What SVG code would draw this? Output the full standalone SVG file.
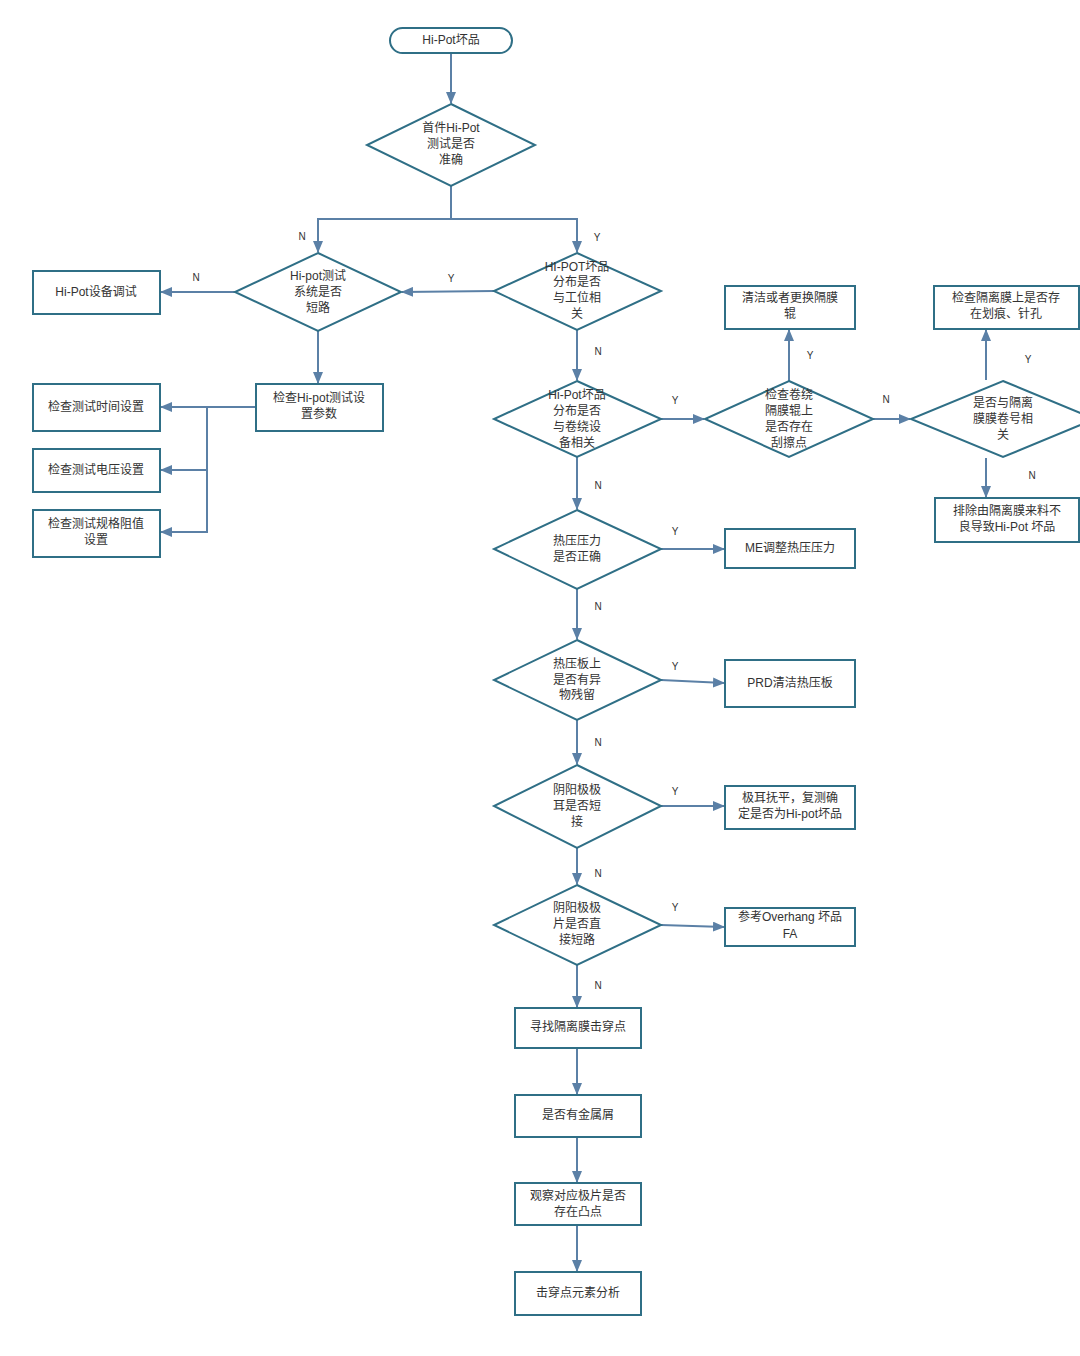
<svg xmlns="http://www.w3.org/2000/svg" width="1080" height="1356" viewBox="0 0 1080 1356">
<style>
.box{fill:#fff;stroke:#2f6f86;stroke-width:2}
.t{font-family:"Liberation Sans","Noto Sans CJK SC",sans-serif;font-size:12px;fill:#333;text-anchor:middle}
.l{font-family:"Liberation Sans",sans-serif;font-size:10px;fill:#333;text-anchor:middle}
.c{fill:none;stroke:#5b80a6;stroke-width:2}
</style>
<defs>
<marker id="a" markerUnits="userSpaceOnUse" markerWidth="12" markerHeight="10" refX="11" refY="5" orient="auto">
<path d="M0,0 L12,5 L0,10 Z" fill="#5b80a6"/>
</marker>
</defs>
<rect width="1080" height="1356" fill="#fff"/>
<g id="connectors">
<path class="c" d="M451,53 V103" marker-end="url(#a)"/>
<path class="c" d="M451,186 V219 H318 V252" marker-end="url(#a)"/>
<path class="c" d="M451,219 H577 V252" marker-end="url(#a)"/>
<path class="c" d="M494,291 L402,292" marker-end="url(#a)"/>
<path class="c" d="M235,292 H161" marker-end="url(#a)"/>
<path class="c" d="M318,331 V383" marker-end="url(#a)"/>
<path class="c" d="M256,407 H161" marker-end="url(#a)"/>
<path class="c" d="M207,407 V470 H161" marker-end="url(#a)"/>
<path class="c" d="M207,470 V532 H161" marker-end="url(#a)"/>
<path class="c" d="M577,330 V380" marker-end="url(#a)"/>
<path class="c" d="M661,419 H704" marker-end="url(#a)"/>
<path class="c" d="M789,381 V330" marker-end="url(#a)"/>
<path class="c" d="M873,419 H910" marker-end="url(#a)"/>
<path class="c" d="M986,380 V330" marker-end="url(#a)"/>
<path class="c" d="M986,458 V497" marker-end="url(#a)"/>
<path class="c" d="M577,457 V509" marker-end="url(#a)"/>
<path class="c" d="M661,549 H724" marker-end="url(#a)"/>
<path class="c" d="M577,589 V639" marker-end="url(#a)"/>
<path class="c" d="M661,680 L724,683" marker-end="url(#a)"/>
<path class="c" d="M577,720 V764" marker-end="url(#a)"/>
<path class="c" d="M661,806 H724" marker-end="url(#a)"/>
<path class="c" d="M577,848 V884" marker-end="url(#a)"/>
<path class="c" d="M661,925 L724,927" marker-end="url(#a)"/>
<path class="c" d="M577,965 V1007" marker-end="url(#a)"/>
<path class="c" d="M577,1048 V1094" marker-end="url(#a)"/>
<path class="c" d="M577,1137 V1182" marker-end="url(#a)"/>
<path class="c" d="M577,1225 V1271" marker-end="url(#a)"/>
<text class="l" x="302" y="240">N</text>
<text class="l" x="597" y="241">Y</text>
<text class="l" x="451" y="282">Y</text>
<text class="l" x="196" y="281">N</text>
<text class="l" x="598" y="355">N</text>
<text class="l" x="675" y="404">Y</text>
<text class="l" x="810" y="359">Y</text>
<text class="l" x="886" y="403">N</text>
<text class="l" x="1028" y="363">Y</text>
<text class="l" x="1032" y="479">N</text>
<text class="l" x="598" y="489">N</text>
<text class="l" x="675" y="535">Y</text>
<text class="l" x="598" y="610">N</text>
<text class="l" x="675" y="670">Y</text>
<text class="l" x="598" y="746">N</text>
<text class="l" x="675" y="795">Y</text>
<text class="l" x="598" y="877">N</text>
<text class="l" x="675" y="911">Y</text>
<text class="l" x="598" y="989">N</text>
</g>
<g id="start"><rect class="box" x="390" y="28" width="122" height="25" rx="12.5"/><text class="t" x="451" y="44">Hi-Pot坏品</text></g>
<g id="d1"><polygon class="box" points="451,104 535,145 451,186 367,145"/><text class="t" x="451" y="132">首件Hi-Pot</text><text class="t" x="451" y="148">测试是否</text><text class="t" x="451" y="164">准确</text></g>
<g id="d2"><polygon class="box" points="318,253 401,292 318,331 235,292"/><text class="t" x="318" y="280">Hi-pot测试</text><text class="t" x="318" y="296">系统是否</text><text class="t" x="318" y="312">短路</text></g>
<g id="d3"><polygon class="box" points="577,253 661,291 577,330 494,291"/><text class="t" x="577" y="271">HI-POT坏品</text><text class="t" x="577" y="286">分布是否</text><text class="t" x="577" y="302">与工位相</text><text class="t" x="577" y="318">关</text></g>
<g id="b1"><rect class="box" x="33" y="271" width="127" height="43"/><text class="t" x="96" y="296">Hi-Pot设备调试</text></g>
<g id="b2"><rect class="box" x="256" y="384" width="127" height="47"/><text class="t" x="319" y="402">检查Hi-pot测试设</text><text class="t" x="319" y="418">置参数</text></g>
<g id="b3"><rect class="box" x="33" y="384" width="127" height="47"/><text class="t" x="96" y="411">检查测试时间设置</text></g>
<g id="b4"><rect class="box" x="33" y="449" width="127" height="43"/><text class="t" x="96" y="474">检查测试电压设置</text></g>
<g id="b5"><rect class="box" x="33" y="510" width="127" height="47"/><text class="t" x="96" y="528">检查测试规格阻值</text><text class="t" x="96" y="544">设置</text></g>
<g id="d4"><polygon class="box" points="577,381 661,419 577,457 494,419"/><text class="t" x="577" y="399">Hi-Pot坏品</text><text class="t" x="577" y="415">分布是否</text><text class="t" x="577" y="431">与卷绕设</text><text class="t" x="577" y="447">备相关</text></g>
<g id="d5"><polygon class="box" points="789,381 873,419 789,457 705,419"/><text class="t" x="789" y="399">检查卷绕</text><text class="t" x="789" y="415">隔膜辊上</text><text class="t" x="789" y="431">是否存在</text><text class="t" x="789" y="447">刮擦点</text></g>
<g id="b6"><rect class="box" x="725" y="286" width="130" height="43"/><text class="t" x="790" y="302">清洁或者更换隔膜</text><text class="t" x="790" y="318">辊</text></g>
<g id="d6"><polygon class="box" points="1003,381 1095,419 1003,457 911,419"/><text class="t" x="1003" y="407">是否与隔离</text><text class="t" x="1003" y="423">膜膜卷号相</text><text class="t" x="1003" y="439">关</text></g>
<g id="b7"><rect class="box" x="934" y="286" width="145" height="43"/><text class="t" x="1006" y="302">检查隔离膜上是否存</text><text class="t" x="1006" y="318">在划痕、针孔</text></g>
<g id="b8"><rect class="box" x="935" y="498" width="144" height="44"/><text class="t" x="1007" y="515">排除由隔离膜来料不</text><text class="t" x="1007" y="531">良导致Hi-Pot 坏品</text></g>
<g id="d7"><polygon class="box" points="577,510 661,549 577,589 494,549"/><text class="t" x="577" y="545">热压压力</text><text class="t" x="577" y="561">是否正确</text></g>
<g id="b9"><rect class="box" x="725" y="529" width="130" height="39"/><text class="t" x="790" y="552">ME调整热压压力</text></g>
<g id="d8"><polygon class="box" points="577,640 661,680 577,720 494,680"/><text class="t" x="577" y="668">热压板上</text><text class="t" x="577" y="684">是否有异</text><text class="t" x="577" y="699">物残留</text></g>
<g id="b10"><rect class="box" x="725" y="660" width="130" height="47"/><text class="t" x="790" y="687">PRD清洁热压板</text></g>
<g id="d9"><polygon class="box" points="577,765 661,806 577,848 494,806"/><text class="t" x="577" y="794">阴阳极极</text><text class="t" x="577" y="810">耳是否短</text><text class="t" x="577" y="826">接</text></g>
<g id="b11"><rect class="box" x="725" y="786" width="130" height="43"/><text class="t" x="790" y="802">极耳抚平，复测确</text><text class="t" x="790" y="818">定是否为Hi-pot坏品</text></g>
<g id="d10"><polygon class="box" points="577,885 661,925 577,965 494,925"/><text class="t" x="577" y="912">阴阳极极</text><text class="t" x="577" y="928">片是否直</text><text class="t" x="577" y="944">接短路</text></g>
<g id="b12"><rect class="box" x="725" y="908" width="130" height="38"/><text class="t" x="790" y="921">参考Overhang 坏品</text><text class="t" x="790" y="938">FA</text></g>
<g id="b13"><rect class="box" x="515" y="1008" width="126" height="40"/><text class="t" x="578" y="1031">寻找隔离膜击穿点</text></g>
<g id="b14"><rect class="box" x="515" y="1095" width="126" height="42"/><text class="t" x="578" y="1119">是否有金属屑</text></g>
<g id="b15"><rect class="box" x="515" y="1183" width="126" height="42"/><text class="t" x="578" y="1200">观察对应极片是否</text><text class="t" x="578" y="1216">存在凸点</text></g>
<g id="b16"><rect class="box" x="515" y="1272" width="126" height="43"/><text class="t" x="578" y="1297">击穿点元素分析</text></g>
</svg>
